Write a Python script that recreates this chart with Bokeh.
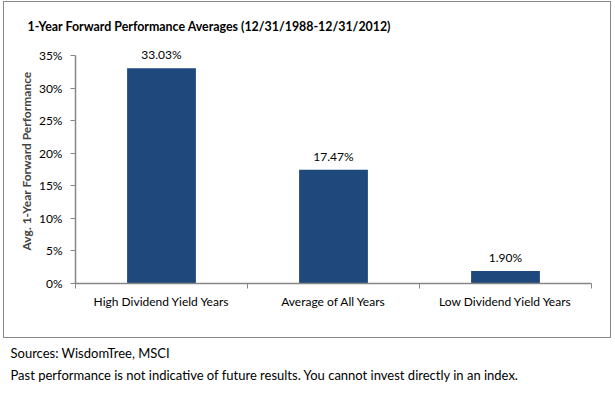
from bokeh.plotting import figure
from bokeh.layouts import column
from bokeh.models import ColumnDataSource, FixedTicker, Range1d, LabelSet, Title
from bokeh.core.properties import value
from bokeh.embed import file_html
from bokeh.resources import INLINE

# ---- data ----
categories = ["High Dividend Yield Years", "Average of All Years", "Low Dividend Yield Years"]
values = [33.03, 17.47, 1.90]
y_ticks = [0, 5, 10, 15, 20, 25, 30, 35]
title_text = "1-Year Forward Performance Averages (12/31/1988-12/31/2012)"
y_label = "Avg. 1-Year Forward Performance"
notes = ["Sources: WisdomTree, MSCI",
         "Past performance is not indicative of future results. You cannot invest directly in an index."]

FONT = "Lato"
BAR = "#1F497D"
AXIS = "#868686"

# ---- layout constants (pixels inside the bordered chart) ----
W, H = 608, 337
FR_LEFT, FR_RIGHT, FR_TOP, FR_BOTTOM = 71, 587, 36, 281
Y35 = 53  # pixel row of the top tick
y_max = y_ticks[-1]
y_end = y_max * (FR_BOTTOM - FR_TOP) / (FR_BOTTOM - Y35)

x_pos = [i + 0.5 for i in range(len(categories))]
src = ColumnDataSource(dict(x=x_pos, top=values, label=[f"{v:.2f}%" for v in values]))

p = figure(width=W, height=H, output_backend="svg", toolbar_location=None,
           x_range=Range1d(0, len(categories)), y_range=Range1d(0, y_end),
           min_border_left=FR_LEFT, min_border_right=W - FR_RIGHT,
           min_border_top=FR_TOP, min_border_bottom=H - FR_BOTTOM,
           styles={"border": "1px solid #888888", "margin-left": "3px", "margin-top": "1px"})
p.outline_line_color = None
p.xgrid.visible = False
p.ygrid.visible = False
p.background_fill_color = "white"
p.border_fill_color = "white"

p.title.text = title_text
p.title.align = "left"
p.title.offset = 27 - 75
p.title.standoff = 10
p.title.text_font = FONT
p.title.text_font_style = "bold"
p.title.text_font_size = "12.4px"
p.title.text_color = "black"

p.vbar(x="x", top="top", width=0.4, bottom=0, source=src, fill_color=BAR, line_color=None)

p.add_layout(LabelSet(x="x", y="top", text="label", source=src, text_align="center",
                      text_baseline="bottom", y_offset=6, text_font=value(FONT),
                      text_font_size=value("12px"), text_color="black"))

# x axis
xa = p.xaxis[0]
xa.ticker = FixedTicker(ticks=x_pos, minor_ticks=list(range(len(categories) + 1)))
xa.major_label_overrides = {x: c for x, c in zip(x_pos, categories)}
xa.major_tick_in = 0
xa.major_tick_out = 0
xa.minor_tick_in = 0
xa.minor_tick_out = 5
xa.minor_tick_line_color = AXIS
xa.axis_line_color = AXIS
xa.axis_line_width = 1.5
xa.major_label_standoff = 5
xa.major_label_text_font = FONT
xa.major_label_text_font_size = "12px"
xa.major_label_text_color = "black"

# y axis
ya = p.yaxis[0]
ya.ticker = FixedTicker(ticks=y_ticks, minor_ticks=[])
ya.bounds = (0, y_max)
ya.major_label_overrides = {t: f"{t}%" for t in y_ticks}
ya.major_tick_in = 0
ya.major_tick_out = 5
ya.major_tick_line_color = AXIS
ya.axis_line_color = AXIS
ya.axis_line_width = 1.5
ya.major_label_standoff = 8
ya.major_label_text_font = FONT
ya.major_label_text_font_size = "12px"
ya.major_label_text_color = "black"
ya.axis_label = y_label
ya.axis_label_text_font = FONT
ya.axis_label_text_font_style = "bold"
ya.axis_label_text_font_size = "12px"
ya.axis_label_standoff = 2

# ---- notes below the box ----
NH = 60
n = figure(width=615, height=NH, output_backend="svg", toolbar_location=None,
           x_range=Range1d(0, 1), y_range=Range1d(0, 1),
           min_border_top=0, min_border_left=0, min_border_right=0, min_border_bottom=NH - 2,
           x_axis_location=None, y_axis_location=None)
n.title = None
n.outline_line_color = None
n.grid.visible = False
n.background_fill_color = "white"
n.border_fill_color = "white"
for t in notes:
    n.add_layout(Title(text=t, align="left", offset=10 - 75 + 4, standoff=4,
                       text_font=FONT, text_font_size="13px", text_font_style="normal",
                       text_color="black"), "below")

page = column(p, n, spacing=0)
open("out.html", "w").write(file_html(page, INLINE))
